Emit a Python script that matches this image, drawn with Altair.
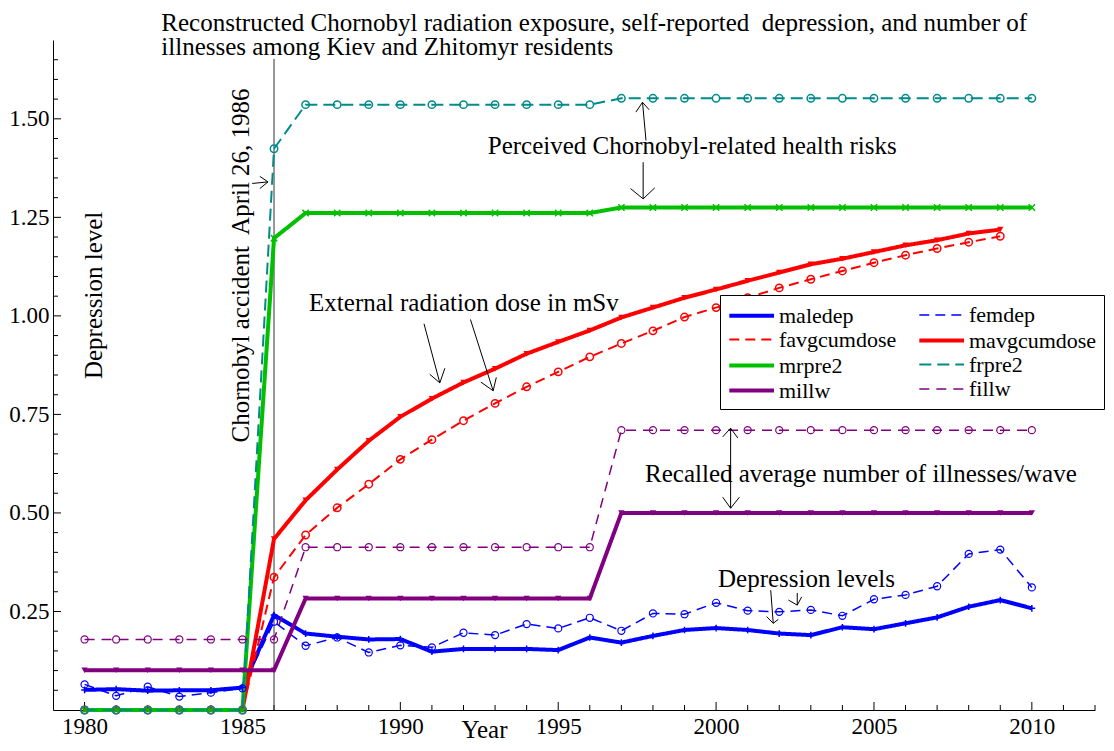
import altair as alt
import pandas as pd

FONT = "Liberation Serif"

years = list(range(1980, 2011))

maledep = [0.051, 0.053, 0.049, 0.050, 0.050, 0.057, 0.241, 0.194, 0.186, 0.179,
           0.180, 0.148, 0.155, 0.155, 0.155, 0.152, 0.184, 0.171, 0.188, 0.203,
           0.208, 0.203, 0.194, 0.190, 0.210, 0.205, 0.220, 0.235, 0.262, 0.279, 0.258]
femdep = [0.065, 0.036, 0.059, 0.034, 0.044, 0.055, 0.224, 0.163, 0.184, 0.146,
          0.164, 0.159, 0.196, 0.190, 0.218, 0.207, 0.234, 0.201, 0.245, 0.243,
          0.272, 0.252, 0.249, 0.254, 0.239, 0.281, 0.292, 0.314, 0.396, 0.407, 0.311]
favgcumdose = [0, 0, 0, 0, 0, 0, 0.337, 0.444, 0.513, 0.573,
               0.636, 0.686, 0.734, 0.778, 0.820, 0.858, 0.896, 0.930, 0.962, 0.997,
               1.021, 1.046, 1.071, 1.093, 1.114, 1.135, 1.154, 1.171, 1.187, 1.202, None]
mavgcumdose = [0, 0, 0, 0, 0, 0, 0.434, 0.532, 0.610, 0.683,
               0.744, 0.790, 0.831, 0.866, 0.904, 0.934, 0.963, 0.996, 1.021, 1.046,
               1.067, 1.089, 1.110, 1.131, 1.145, 1.162, 1.179, 1.192, 1.209, 1.219, None]
mrpre2 = [0, 0, 0, 0, 0, 0, 1.197, 1.261, 1.261, 1.261,
          1.261, 1.261, 1.261, 1.261, 1.261, 1.261, 1.261, 1.275, 1.275, 1.275,
          1.275, 1.275, 1.275, 1.275, 1.275, 1.275, 1.275, 1.275, 1.275, 1.275, 1.275]
frpre2 = [0, 0, 0, 0, 0, 0, 1.424, 1.536, 1.536, 1.536,
          1.536, 1.536, 1.536, 1.536, 1.536, 1.536, 1.536, 1.552, 1.552, 1.552,
          1.552, 1.552, 1.552, 1.552, 1.552, 1.552, 1.552, 1.552, 1.552, 1.552, 1.552]
millw = [0.101, 0.101, 0.101, 0.101, 0.101, 0.101, 0.101, 0.283, 0.283, 0.283,
         0.283, 0.283, 0.283, 0.283, 0.283, 0.283, 0.283, 0.500, 0.500, 0.500,
         0.500, 0.500, 0.500, 0.500, 0.500, 0.500, 0.500, 0.500, 0.500, 0.500, 0.500]
fillw = [0.179, 0.179, 0.179, 0.179, 0.179, 0.179, 0.179, 0.413, 0.413, 0.413,
         0.413, 0.413, 0.413, 0.413, 0.413, 0.413, 0.413, 0.710, 0.710, 0.710,
         0.710, 0.710, 0.710, 0.710, 0.710, 0.710, 0.710, 0.710, 0.710, 0.710, 0.710]

series_names = ["maledep", "femdep", "favgcumdose", "mavgcumdose",
                "mrpre2", "frpre2", "millw", "fillw"]
series_values = [maledep, femdep, favgcumdose, mavgcumdose, mrpre2, frpre2, millw, fillw]
series_colors = ["#0000ff", "#0000ff", "#ff0000", "#ff0000",
                 "#00c000", "#008b8b", "#800080", "#800080"]
series_dash = [[1, 0], [10, 6], [10, 6], [1, 0], [1, 0], [12, 6], [1, 0], [10, 7]]
series_width = [4, 1.5, 2, 4, 4, 2, 4, 1.5]
series_marker = [
    dict(shape="M0,-1V1M-1,0H1", filled=False, size=45, strokeWidth=1.5),
    dict(shape="circle", filled=False, size=50, strokeWidth=1.2),
    dict(shape="circle", filled=False, size=55, strokeWidth=1.5),
    dict(shape="triangle-down", filled=True, size=40),
    dict(shape="M-1,-1L1,1M-1,1L1,-1", filled=False, size=40, strokeWidth=1.5),
    dict(shape="circle", filled=False, size=55, strokeWidth=1.5),
    dict(shape="triangle-down", filled=True, size=40),
    dict(shape="circle", filled=False, size=50, strokeWidth=1.2),
]
# legend is laid out column by column: this order gives the reference's rows
legend_order = ["maledep", "favgcumdose", "mrpre2", "millw",
                "femdep", "mavgcumdose", "frpre2", "fillw"]

x_label_years = [1980, 1985, 1990, 1995, 2000, 2005, 2010]
x_tick_years = list(range(1980, 2013))
y_label_values = [0.25, 0.50, 0.75, 1.00, 1.25, 1.50]
y_tick_values = [round(0.05 * i, 2) for i in range(1, 34)]

# annotation texts (data coordinates: year, value)
ann_text = ["Reconstructed Chornobyl radiation exposure, self-reported\u00a0 depression, and number of",
            "illnesses among Kiev and Zhitomyr residents",
            "Perceived Chornobyl-related health risks",
            "External radiation dose in mSv",
            "Recalled average number of illnesses/wave",
            "Depression levels"]
ann_x = [1982.43, 1982.43, 1992.77, 1987.11, 1997.75, 2000.06]
ann_y = [1.7228, 1.6607, 1.410, 1.012, 0.579, 0.313]

vtext = ["Depression level", "Chornobyl accident\u00a0 April 26, 1986"]
vtext_x = [1980.56, 1985.21]
vtext_y = [1.052, 1.128]

# arrow segments
arr_x = [1997.78, 1997.67, 1997.67, 1997.69, 1997.69, 1997.69,
         1985.31, 1985.81, 1985.81, 1990.75, 1991.25, 1991.25,
         1992.22, 1992.94, 1992.94, 2000.46, 2000.46, 2000.46, 2000.46, 2000.46,
         2001.73, 2001.81, 2001.81, 2002.57, 2002.57, 2002.57]
arr_y = [1.445, 1.542, 1.542, 1.390, 1.297, 1.297,
         1.336, 1.340, 1.340, 0.980, 0.830, 0.830,
         0.991, 0.810, 0.810, 0.715, 0.715, 0.715, 0.512, 0.512,
         0.304, 0.220, 0.220, 0.297, 0.266, 0.266]
arr_x2 = [1997.67, 1997.46, 1997.88, 1997.69, 1997.29, 1998.06,
          1985.81, 1985.55, 1985.55, 1991.25, 1990.93, 1991.41,
          1992.94, 1992.55, 1993.04, 2000.46, 2000.21, 2000.69, 2000.21, 2000.74,
          2001.81, 2001.60, 2001.97, 2002.57, 2002.29, 2002.71]
arr_y2 = [1.542, 1.517, 1.523, 1.297, 1.323, 1.325,
          1.340, 1.354, 1.323, 0.830, 0.852, 0.867,
          0.810, 0.832, 0.844, 0.512, 0.693, 0.690, 0.540, 0.540,
          0.220, 0.237, 0.230, 0.266, 0.279, 0.287]

accident_year = [1986]
accident_top = [1.652]

# ---------------------------------------------------------------
rows = []
for name, vals in zip(series_names, series_values):
    for yr, v in zip(years, vals):
        if v is not None:
            rows.append({"year": yr, "value": v, "series": name})
df = pd.DataFrame(rows)

color_of = dict(zip(series_names, series_colors))
dash_of = dict(zip(series_names, series_dash))
width_of = dict(zip(series_names, series_width))

xscale = alt.Scale(domain=[1979, 2012], nice=False, zero=False)
yscale = alt.Scale(domain=[0, 1.7], nice=False, zero=False)

x_axis = alt.Axis(values=x_label_years, format="d", ticks=False, tickSize=0, grid=False,
                  labelFont=FONT, labelFontSize=23, labelColor="black", labelPadding=5,
                  domainColor="black", domainWidth=1,
                  title="Year", titleFont=FONT, titleFontSize=25, titleFontWeight="normal",
                  titleColor="black", titleX=431, titleY=27, titleBaseline="alphabetic",
                  titleAlign="center", titleAngle=0)
y_axis = alt.Axis(values=y_label_values, format=".2f", ticks=False, tickSize=0, grid=False,
                  labelFont=FONT, labelFontSize=23, labelColor="black", labelPadding=4,
                  domainColor="black", domainWidth=1, title=None)


def X(field):
    return alt.X(field, type="quantitative", scale=xscale, axis=x_axis)


def Y(field):
    return alt.Y(field, type="quantitative", scale=yscale, axis=y_axis)


legend = alt.Legend(title=None, orient="none", legendX=667, legendY=255, columns=2,
                    symbolType="M-1,0H3", symbolSize=500, labelFont=FONT, labelFontSize=22,
                    labelColor="black", labelOffset=25, rowPadding=-4, columnPadding=14,
                    padding=7, strokeColor="black", fillColor="white", cornerRadius=0)

lines = alt.Chart(df).mark_line().encode(
    x=X("year"),
    y=Y("value"),
    color=alt.Color("series:N",
                    scale=alt.Scale(domain=legend_order, range=[color_of[s] for s in legend_order]),
                    legend=legend),
    strokeDash=alt.StrokeDash("series:N",
                              scale=alt.Scale(domain=legend_order, range=[dash_of[s] for s in legend_order]),
                              legend=legend),
    strokeWidth=alt.StrokeWidth("series:N",
                                scale=alt.Scale(type="ordinal", domain=legend_order,
                                                range=[width_of[s] for s in legend_order]),
                                legend=legend),
)

point_layers = []
for name, col, mk in zip(series_names, series_colors, series_marker):
    sub = df[df.series == name]
    point_layers.append(
        alt.Chart(sub).mark_point(color=col, opacity=1, **mk).encode(x=X("year"), y=Y("value"))
    )

major_x = [v for v in x_tick_years if v % 5 == 0]
minor_x = [v for v in x_tick_years if v % 5 != 0]
major_y = [v for v in y_tick_values if abs(v * 4 - round(v * 4)) < 1e-9]
minor_y = [v for v in y_tick_values if abs(v * 4 - round(v * 4)) >= 1e-9]


def xticks(vals, length):
    return alt.Chart(pd.DataFrame({"t": vals})).mark_rule(color="black", strokeWidth=1).encode(
        x=X("t"), y=alt.value(670), y2=alt.value(670 - length))


def yticks(vals, length):
    return alt.Chart(pd.DataFrame({"t": vals})).mark_rule(color="black", strokeWidth=1).encode(
        y=Y("t"), x=alt.value(0), x2=alt.value(length))


accident = alt.Chart(pd.DataFrame({"x": accident_year, "top": accident_top})).mark_rule(
    color="#333333", strokeWidth=1).encode(x=X("x"), y=Y("top"), y2=alt.value(670))

arrows = alt.Chart(pd.DataFrame({"x": arr_x, "y": arr_y, "x2": arr_x2, "y2": arr_y2})).mark_rule(
    color="black", strokeWidth=1).encode(x=X("x"), y=Y("y"), x2="x2:Q", y2="y2:Q")

texts = alt.Chart(pd.DataFrame({"t": ann_text, "x": ann_x, "y": ann_y})).mark_text(
    font=FONT, fontSize=25, align="left", baseline="alphabetic", color="black").encode(
    x=X("x"), y=Y("y"), text="t:N")

vtexts = alt.Chart(pd.DataFrame({"t": vtext, "x": vtext_x, "y": vtext_y})).mark_text(
    font=FONT, fontSize=25, align="center", baseline="alphabetic", angle=270, color="black").encode(
    x=X("x"), y=Y("y"), text="t:N")

chart = alt.layer(
    xticks(major_x, 8), xticks(minor_x, 5), yticks(major_y, 8), yticks(minor_y, 5),
    accident, lines, *point_layers, arrows, texts, vtexts
).properties(
    width=1042, height=670,
    autosize=alt.AutoSizeParams(type="none"),
    padding={"left": 45, "top": 32, "right": 11, "bottom": 33},
).configure(
    font=FONT
).configure_axis(
    labelFont=FONT, titleFont=FONT
).configure_legend(
    labelFont=FONT
).configure_view(stroke=None)

chart.save("out.html", embed_options={"renderer": "svg", "actions": False})
